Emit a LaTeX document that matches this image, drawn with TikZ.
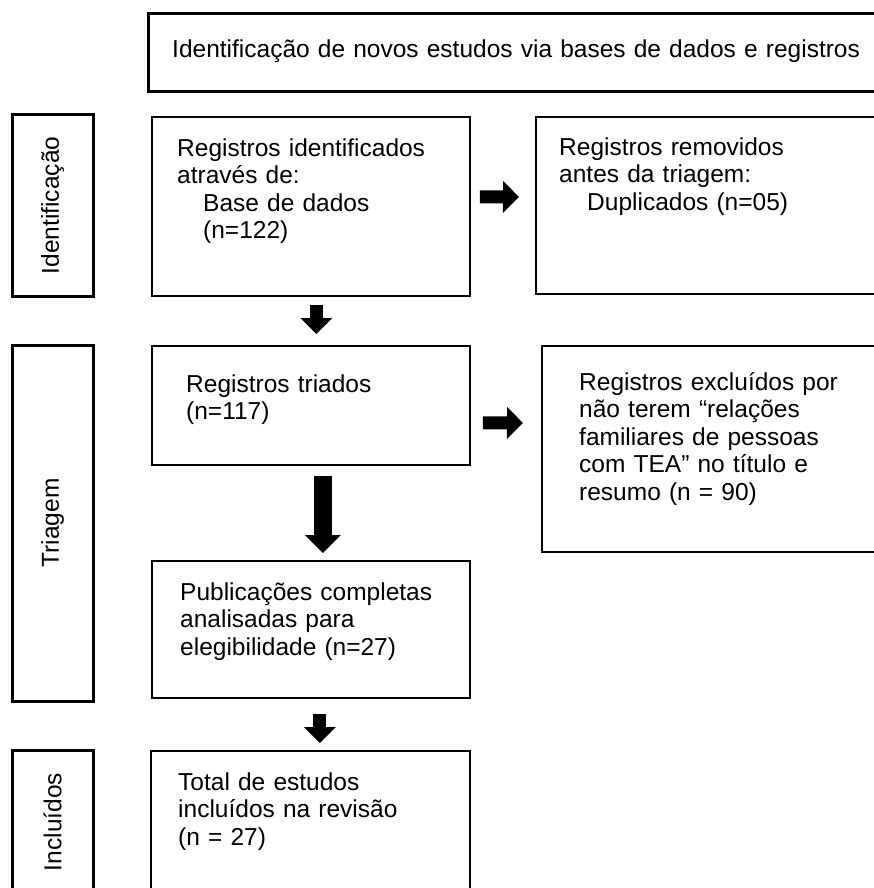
\documentclass[tikz,border=0pt]{standalone}
\usepackage{fontspec}
\setmainfont{Liberation Sans}
\usetikzlibrary{arrows.meta,calc}
\newcommand\tfont{\fontsize{24.5}{27.5}\selectfont}
\newcommand\fst{\rule{0pt}{20pt}}
\tikzset{
  box/.style={draw, line width=1.8pt, inner sep=0pt, anchor=north west},
  rbox/.style={draw, line width=2pt, inner sep=0pt, anchor=north west},
  sidebox/.style={draw, line width=3pt, inner sep=0pt, rotate=90, font=\tfont},
  txt/.style={anchor=north west, inner sep=0pt, align=left, text width=340pt, font=\tfont},
  sarrow/.style={line width=13pt, -{Triangle[length=16pt,width=31pt]}},
  barrow/.style={line width=18pt, -{Triangle[length=18pt,width=35pt]}}
}
\begin{document}
\begin{tikzpicture}[x=1pt,y=-1pt]
\useasboundingbox (0,0) rectangle (874,888);
\clip (0,0) rectangle (874,888);
% top banner
\node[draw, line width=3.3pt, inner sep=0pt, anchor=north west, minimum width=760pt, minimum height=78pt] (top) at (147,12) {};
\node[txt, text width=720pt] (ttop) at (172,37) {\fst Identificação de novos estudos via bases de dados e registros};
% side boxes
\node[sidebox, minimum width=181pt, minimum height=81pt] (s1) at (52.5,205.5) {Identificação};
\node[sidebox, minimum width=356pt, minimum height=81pt] (s2) at (52.5,523) {Triagem};
\node[sidebox, minimum width=144pt, minimum height=81pt] (s3) at (52.5,822) {Incluídos};
% main boxes
\node[box, minimum width=318pt, minimum height=179pt] (b1) at (151,116) {};
\node[box, minimum width=318pt, minimum height=119pt] (b2) at (151,345) {};
\node[box, minimum width=318pt, minimum height=137pt] (b3) at (151,560) {};
\node[box, minimum width=319pt, minimum height=150pt] (b4) at (150,750) {};
% right boxes
\node[rbox, minimum width=365pt, minimum height=177pt] (r1) at (535,116) {};
\node[rbox, minimum width=359pt, minimum height=206pt] (r2) at (541,345) {};
% texts
\node[txt] (t1) at (177,136) {\fst Registros identificados\\através de:\\\hspace*{26pt}Base de dados\\\hspace*{26pt}(n=122)};
\node[txt] (tr1) at (559,135) {\fst Registros removidos\\antes da triagem:\\\hspace*{28pt}Duplicados (n=05)};
\node[txt] (t2) at (186,372) {\fst Registros triados\\(n=117)};
\node[txt] (tr2) at (579,370) {\fst Registros excluídos por\\não terem “relações\\familiares de pessoas\\com TEA” no título e\\resumo (n = 90)};
\node[txt] (t3) at (180,580) {\fst Publicações completas\\analisadas para\\elegibilidade (n=27)};
\node[txt] (t4) at (178,770) {\fst Total de estudos\\incluídos na revisão\\(n = 27)};
% arrows
\draw[sarrow] ($(b1.east)+(9,-9.5)$) -- ($(r1.west)+(-16,-8.5)$);
\draw[sarrow] ($(b2.east)+(12,17.5)$) -- ($(r2.west)+(-18,-26)$);
\draw[sarrow] ($(b1.south)+(5.5,8)$) -- ($(b2.north)+(5.5,-11)$);
\draw[barrow] ($(b2.south)+(12,10)$) -- ($(b3.north)+(12,-7)$);
\draw[sarrow] ($(b3.south)+(9,15)$) -- ($(b4.north)+(9.5,-7)$);
\end{tikzpicture}
\end{document}
